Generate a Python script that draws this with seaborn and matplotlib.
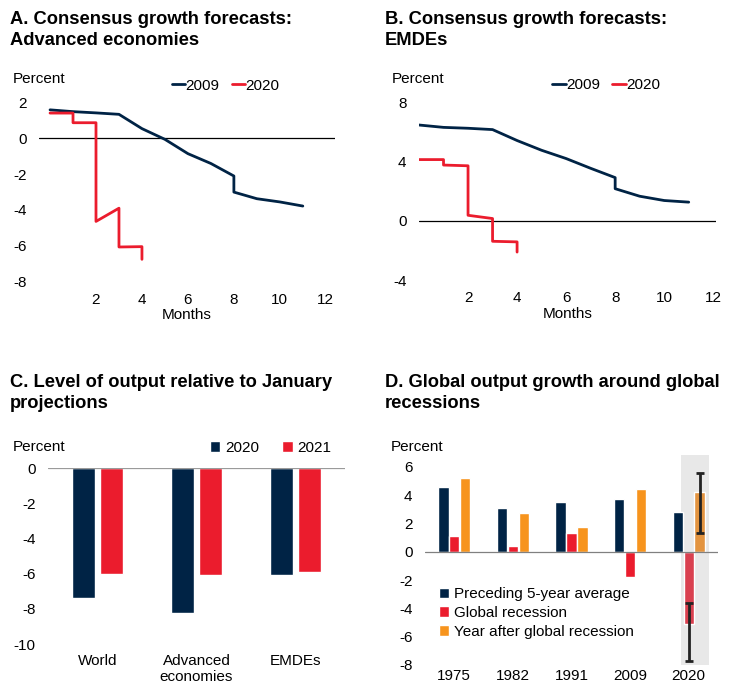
import numpy as np
import pandas as pd
import matplotlib
matplotlib.use('Agg')
import matplotlib.pyplot as plt
import seaborn as sns

# Data
months_2009 = [0, 1, 2, 3, 4, 5, 6, 7, 8, 8, 9, 10, 11]
months_2020 = [0, 1, 1, 2, 2, 3, 3, 4, 4]
adv_2009 = [1.6, 1.5, 1.43, 1.35, 0.55, -0.05, -0.85, -1.4, -2.1, -3.0, -3.37, -3.55, -3.78]
adv_2020 = [1.42, 1.42, 0.88, 0.88, -4.64, -3.9, -6.07, -6.05, -6.76]
emde_2009 = [6.49, 6.33, 6.27, 6.18, 5.44, 4.78, 4.22, 3.56, 2.93, 2.18, 1.67, 1.38, 1.27]
emde_2020 = [4.15, 4.15, 3.78, 3.73, 0.38, 0.16, -1.38, -1.42, -2.11]

c_groups = ['World', 'Advanced\neconomies', 'EMDEs']
c_2020 = [-7.36, -8.25, -6.07]
c_2021 = [-6.0, -6.07, -5.88]

d_years = ['1975', '1982', '1991', '2009', '2020']
d_pre = [4.59, 3.06, 3.51, 3.7, 2.8]
d_rec = [1.11, 0.42, 1.3, -1.76, -5.1]
d_after = [5.18, 2.71, 1.72, 4.4, 4.19]
# error ranges for 2020 (low, high)
d_rec_err = [-7.69, -3.6]
d_after_err = [1.3, 5.58]

NAVY = '#002345'
RED = '#EB1C2D'
ORANGE = '#F7941D'
FS = 11

sns.set_style('white')
plt.rcParams['font.family'] = ['Liberation Sans', 'DejaVu Sans']
plt.rcParams['font.size'] = FS
plt.rcParams['axes.unicode_minus'] = False
for k in ['text.color', 'axes.labelcolor', 'xtick.color', 'ytick.color']:
    plt.rcParams[k] = 'black'

W, H = 729, 687
fig = plt.figure(figsize=(W / 100, H / 100), dpi=100)


def fx(px):
    return px / W


def fy(py):
    return 1 - py / H


def add_ax(l, t, r, b):
    return fig.add_axes([fx(l), fy(b), fx(r) - fx(l), (b - t) / H])


def clean(ax):
    sns.despine(ax=ax, left=True, bottom=True)
    ax.tick_params(length=0, labelsize=FS)
    ax.set_ylabel('')


title_kw = dict(fontsize=13.2, fontweight='bold', va='top', ha='left', linespacing=1.32)
fig.text(fx(10), fy(11), 'A. Consensus growth forecasts:\nAdvanced economies', **title_kw)
fig.text(fx(385), fy(11), 'B. Consensus growth forecasts:\nEMDEs', **title_kw)
fig.text(fx(10), fy(374), 'C. Level of output relative to January\nprojections', **title_kw)
fig.text(fx(385), fy(374), 'D. Global output growth around global\nrecessions', **title_kw)

# ---- Panels A and B: line charts
def line_panel(ax, v2009, v2020, ylim, yticks, xlim):
    df = pd.DataFrame({
        'month': months_2009 + months_2020,
        'value': v2009 + v2020,
        'series': ['2009'] * len(v2009) + ['2020'] * len(v2020),
    })
    sns.lineplot(data=df, x='month', y='value', hue='series', estimator=None, sort=False,
                 palette={'2009': NAVY, '2020': RED}, linewidth=2, ax=ax)
    ax.axhline(0, color='black', lw=0.9, zorder=0)
    ax.set_xlim(*xlim)
    ax.set_ylim(*ylim)
    ax.set_yticks(yticks)
    ax.set_xticks([2, 4, 6, 8, 10, 12])
    ax.set_xlabel('Months', labelpad=1, fontsize=FS)
    clean(ax)
    ax.tick_params(axis='y', pad=9)
    ax.tick_params(axis='x', pad=8)
    leg = ax.legend(loc='lower center', bbox_to_anchor=(0.63, 0.98), ncol=2, frameon=False,
                    handlelength=0.9, handletextpad=0.0, columnspacing=0.8, fontsize=FS)
    for h in leg.get_lines():
        h.set_linewidth(2)


axA = add_ax(39, 102.7, 335, 281.5)
line_panel(axA, adv_2009, adv_2020, (-8, 2), [-8, -6, -4, -2, 0, 2], (-0.48, 12.4))
fig.text(fx(13), fy(79), 'Percent', va='center', ha='left', fontsize=FS)

axB = add_ax(419, 102.7, 715.7, 280)
line_panel(axB, emde_2009, emde_2020, (-4, 8), [-4, 0, 4, 8], (0, 12.1))
fig.text(fx(392), fy(79), 'Percent', va='center', ha='left', fontsize=FS)

# ---- Panel C: grouped bars
axC = add_ax(48, 468.3, 345, 644)
dfc = pd.DataFrame({
    'group': c_groups * 2,
    'value': c_2020 + c_2021,
    'year': ['2020'] * 3 + ['2021'] * 3,
})
sns.barplot(data=dfc, x='group', y='value', hue='year', palette={'2020': NAVY, '2021': RED},
            width=0.57, gap=0.2, ax=axC, saturation=1)
axC.axhline(0, color='#9a9a9a', lw=0.9)
axC.set_ylim(-10, 0)
axC.set_yticks([-10, -8, -6, -4, -2, 0])
axC.set_xlim(-0.5, 2.5)
axC.set_xlabel('')
clean(axC)
axC.tick_params(axis='y', pad=9)
axC.tick_params(axis='x', pad=7)
axC.legend(loc='lower right', bbox_to_anchor=(1.0, 1.0), ncol=2, frameon=False,
           handlelength=0.7, handleheight=0.7, handletextpad=0.3, columnspacing=1.5, fontsize=FS)
fig.text(fx(13), fy(447), 'Percent', va='center', ha='left', fontsize=FS)

# ---- Panel D: grouped bars with error bars
axD = add_ax(425, 454.7, 718, 665)
labels = ['Preceding 5-year average', 'Global recession', 'Year after global recession']
dfd = pd.DataFrame({
    'year': d_years * 3,
    'value': d_pre + d_rec + d_after,
    'kind': [labels[0]] * 5 + [labels[1]] * 5 + [labels[2]] * 5,
})
axD.axvspan(3.87, 4.35, color='#e8e8e8', zorder=0, lw=0)
sns.barplot(data=dfd, x='year', y='value', hue='kind', hue_order=labels,
            palette=[NAVY, RED, ORANGE], width=0.56, gap=0.06, ax=axD, saturation=1)
# mute the 2020 bars that sit on the shaded area
rec_2020 = axD.containers[1][4]
aft_2020 = axD.containers[2][4]
rec_2020.set_facecolor('#D9404F')
aft_2020.set_facecolor('#E39440')
for bar, (lo, hi), val in [(rec_2020, d_rec_err, d_rec[4]), (aft_2020, d_after_err, d_after[4])]:
    cx = bar.get_x() + bar.get_width() / 2
    axD.errorbar([cx], [val], yerr=[[val - lo], [hi - val]], fmt='none', ecolor='#222222',
                 elinewidth=2, capsize=3, capthick=2, zorder=5)
axD.axhline(0, color='#808080', lw=0.9, zorder=1)
axD.set_ylim(-8, 6.85)
axD.set_yticks([-8, -6, -4, -2, 0, 2, 4, 6])
axD.set_xlim(-0.5, 4.5)
axD.set_xlabel('')
clean(axD)
axD.tick_params(axis='y', pad=9)
axD.tick_params(axis='x', pad=3)
axD.legend(loc='lower left', bbox_to_anchor=(0.0, 0.06), frameon=False, handlelength=0.7,
           handleheight=0.7, handletextpad=0.3, labelspacing=0.3, fontsize=FS)
fig.text(fx(391), fy(447), 'Percent', va='center', ha='left', fontsize=FS)

fig.savefig('out.png', dpi=100, facecolor='white')
